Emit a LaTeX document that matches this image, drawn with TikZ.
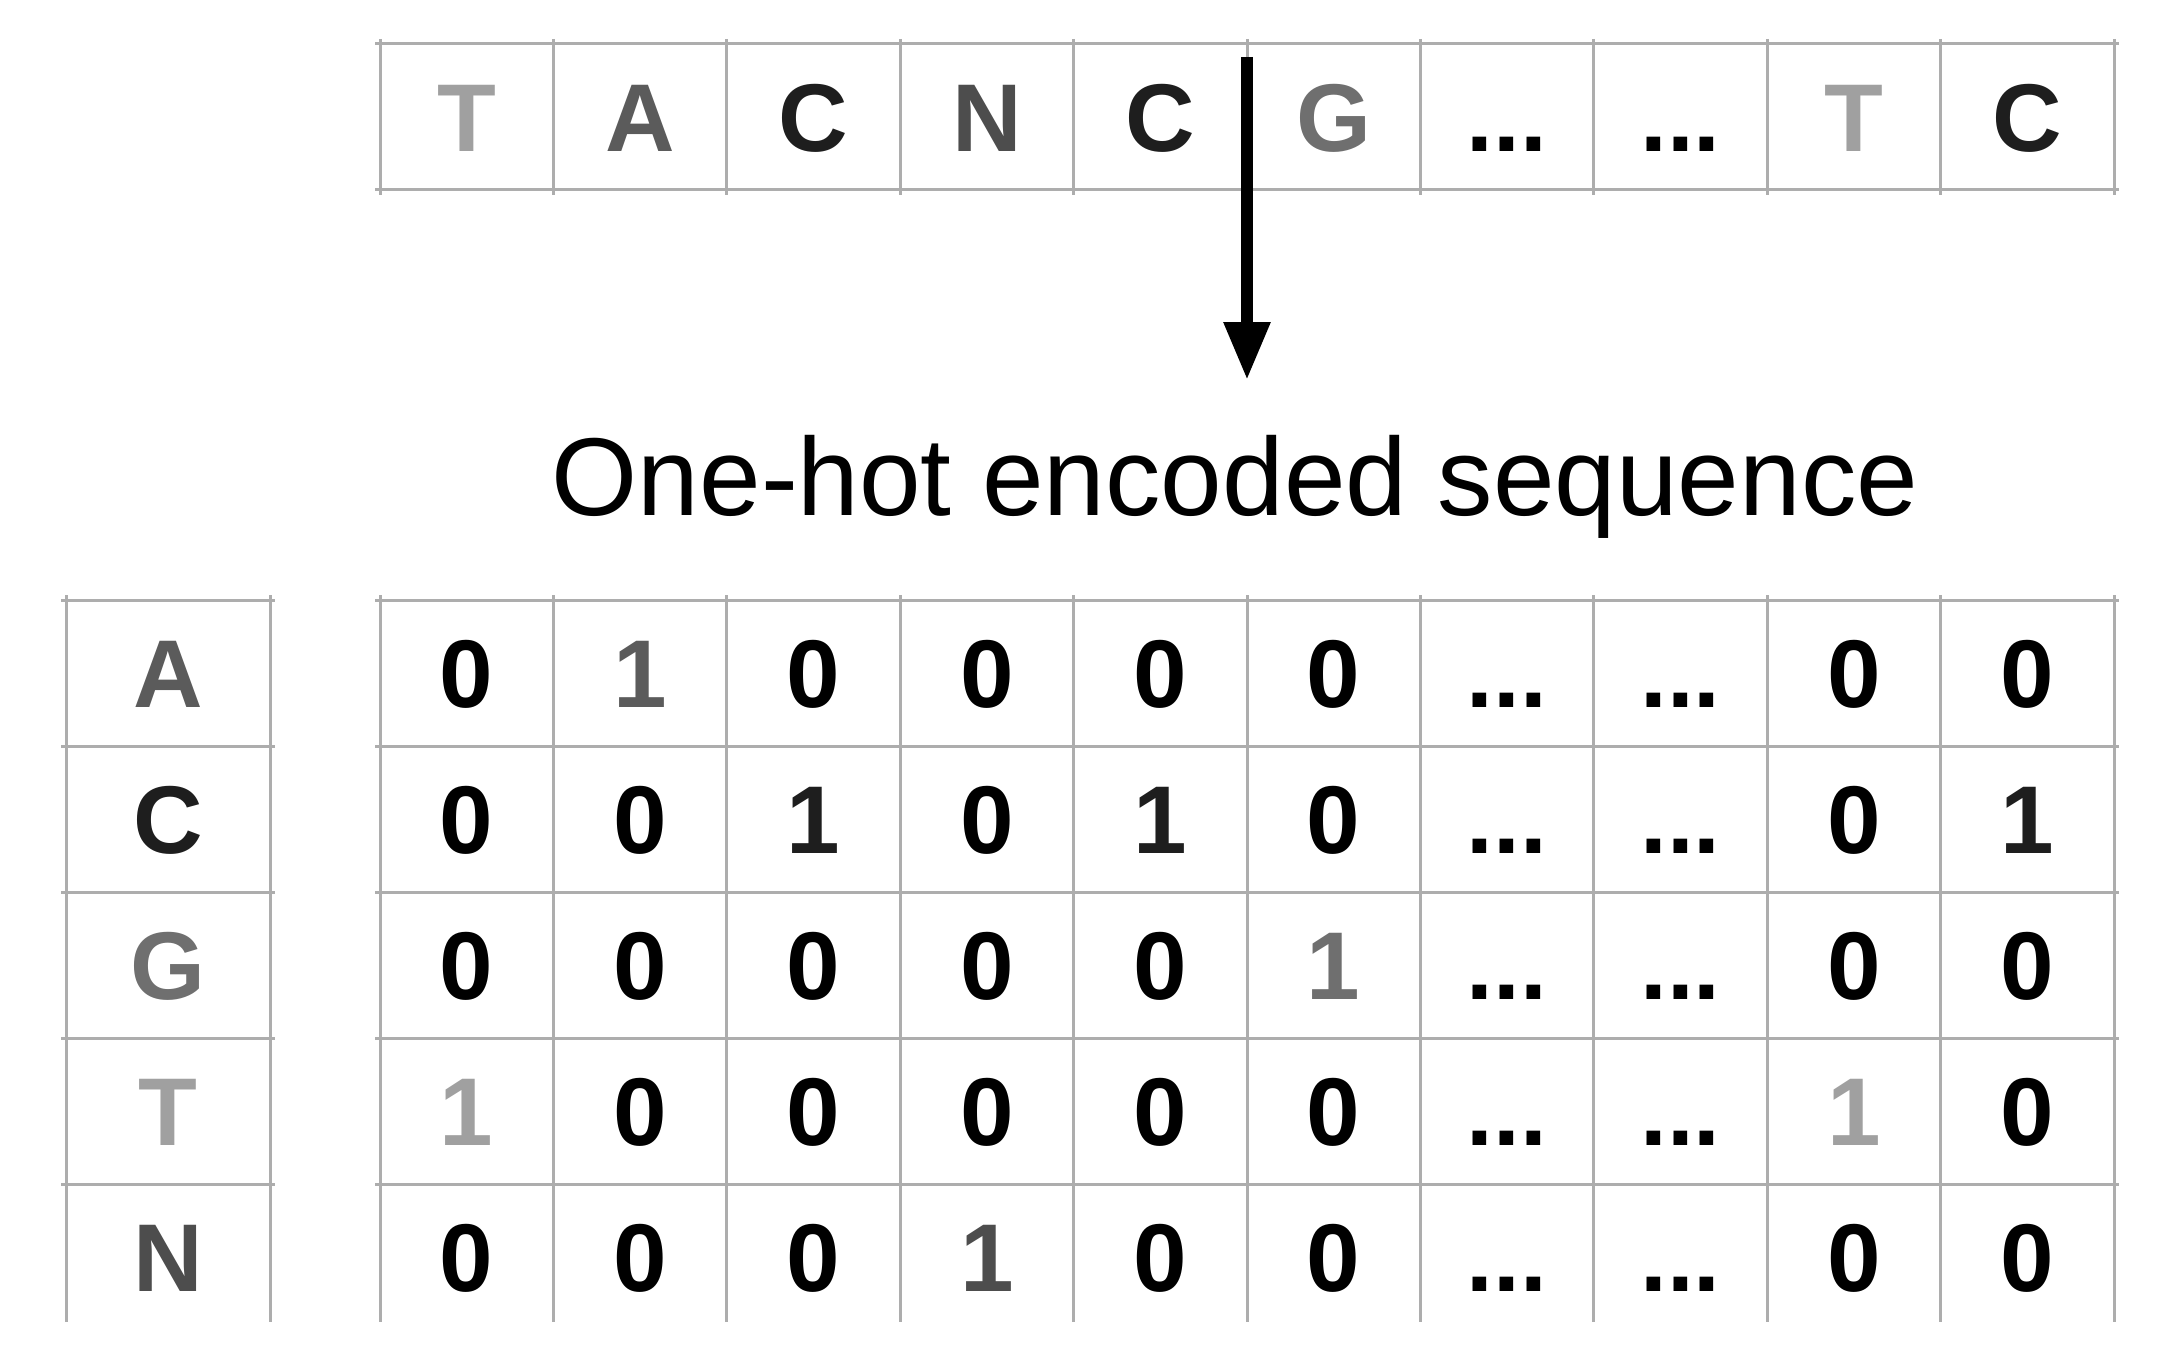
\documentclass[tikz,border=0pt]{standalone}
\usepackage{fontspec}
\setmainfont{Liberation Sans}
\usetikzlibrary{arrows.meta}
\definecolor{gridgray}{HTML}{ADADAD}
\definecolor{baseA}{HTML}{5B5B5B}
\definecolor{baseC}{HTML}{1E1E1E}
\definecolor{baseG}{HTML}{6F6F6F}
\definecolor{baseT}{HTML}{A0A0A0}
\definecolor{baseN}{HTML}{4D4D4D}
\newcommand{\dotsym}{...}
\tikzset{
	>={Triangle[length=5.8mm,width=4.4mm]}
}

\begin{document}
\begin{tikzpicture}[
every node/.style = {
	inner sep = 0pt,
	anchor = base
},
grid/.style = {
	draw = gridgray,
	line width = 0.3mm
},
cell/.style = {
	font = \fontsize{27.4pt}{30pt}\selectfont\bfseries
},
title/.style = {
	font = \fontsize{31.5pt}{36pt}\selectfont
}
]
\useasboundingbox (0,0) rectangle (21.59,-13.57);

% input sequence
\foreach \i in {0,...,10}
	\draw[grid] ({3.80+\i*1.734},-0.39) -- ({3.80+\i*1.734},-1.95);
\foreach \y in {-0.44,-1.90}
	\draw[grid] (3.75,\y) -- (21.19,\y);
\foreach \b/\c [count=\i] in {T/baseT,A/baseA,C/baseC,N/baseN,C/baseC,G/baseG,\dotsym/black,\dotsym/black,T/baseT,C/baseC}
	\node[cell, text=\c] (seq\i) at ({3.80+(\i-0.5)*1.734},-1.515) {\b};

\coordinate (arrowstart) at (12.47,-0.57);
\coordinate (arrowend) at (12.47,-3.80);
\draw[->, line width=1.2mm] (arrowstart) -- (arrowend);

\node[title] (onehottitle) at (12.35,-5.15) {One-hot encoded sequence};

% one-hot matrix
\foreach \k in {0,...,4} {
	\draw[grid] (0.61,{-6.00-\k*1.46}) -- (2.75,{-6.00-\k*1.46});
	\draw[grid] (3.75,{-6.00-\k*1.46}) -- (21.19,{-6.00-\k*1.46});
}
\foreach \x in {0.66,2.70}
	\draw[grid] (\x,-5.95) -- (\x,-13.22);
\foreach \i in {0,...,10}
	\draw[grid] ({3.80+\i*1.734},-5.95) -- ({3.80+\i*1.734},-13.22);

\foreach \b [count=\k] in {A,C,G,T,N}
	\node[cell, text=base\b] (row\b) at (1.68,{-6.00-(\k-0.5)*1.46-0.345}) {\b};

\foreach \v [count=\j] in {0,{\color{baseA}1},0,0,0,0,\dotsym,\dotsym,0,0}
	\node[cell] (cellA\j) at ({3.80+(\j-0.5)*1.734},-7.075) {\v};
\foreach \v [count=\j] in {0,0,{\color{baseC}1},0,{\color{baseC}1},0,\dotsym,\dotsym,0,{\color{baseC}1}}
	\node[cell] (cellC\j) at ({3.80+(\j-0.5)*1.734},-8.535) {\v};
\foreach \v [count=\j] in {0,0,0,0,0,{\color{baseG}1},\dotsym,\dotsym,0,0}
	\node[cell] (cellG\j) at ({3.80+(\j-0.5)*1.734},-9.995) {\v};
\foreach \v [count=\j] in {{\color{baseT}1},0,0,0,0,0,\dotsym,\dotsym,{\color{baseT}1},0}
	\node[cell] (cellT\j) at ({3.80+(\j-0.5)*1.734},-11.455) {\v};
\foreach \v [count=\j] in {0,0,0,{\color{baseN}1},0,0,\dotsym,\dotsym,0,0}
	\node[cell] (cellN\j) at ({3.80+(\j-0.5)*1.734},-12.915) {\v};

\end{tikzpicture}
\end{document}
